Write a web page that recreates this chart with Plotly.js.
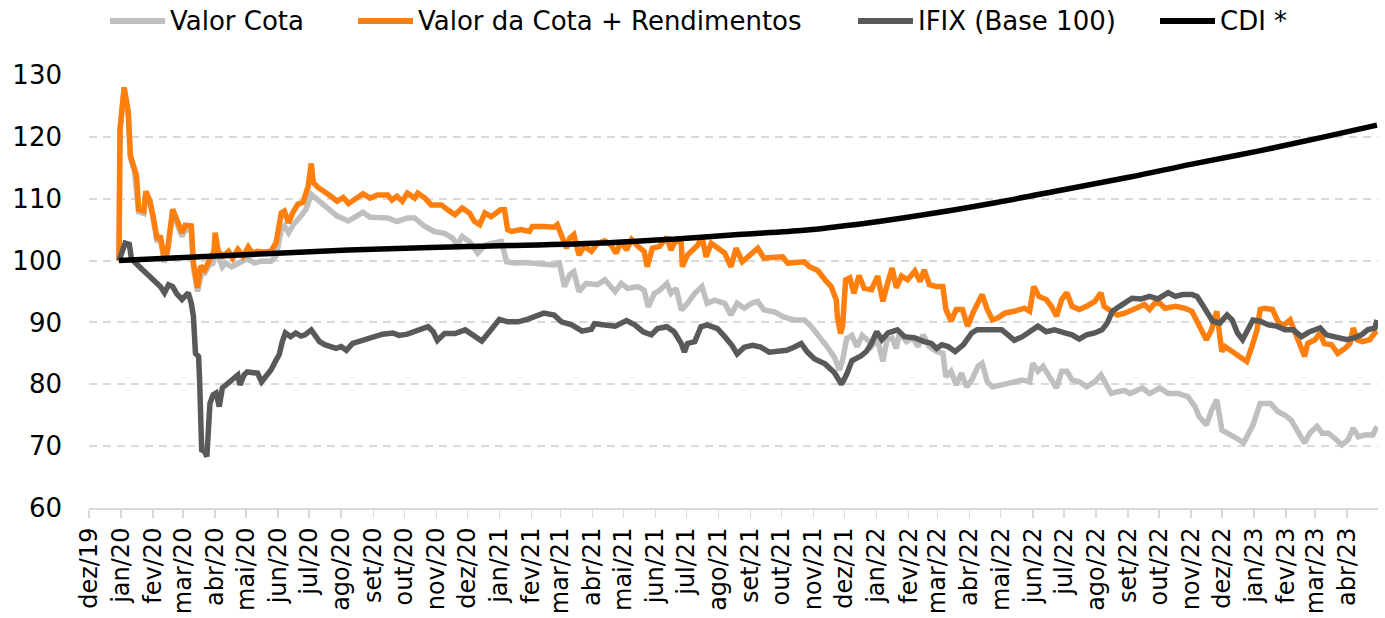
<!DOCTYPE html>
<html>
<head>
<meta charset="utf-8">
<script src="https://cdn.plot.ly/plotly-3.0.1.min.js"></script>
<style>
  html, body { margin: 0; padding: 0; background: #fff; }
  #chart { width: 1385px; height: 618px; }
</style>
</head>
<body>
<div id="chart"></div>
<script>
// ---- Tick labels (monthly) ----
const tickDates = ["2019-12-01","2020-01-01","2020-02-01","2020-03-01","2020-04-01","2020-05-01","2020-06-01","2020-07-01","2020-08-01","2020-09-01","2020-10-01","2020-11-01","2020-12-01","2021-01-01","2021-02-01","2021-03-01","2021-04-01","2021-05-01","2021-06-01","2021-07-01","2021-08-01","2021-09-01","2021-10-01","2021-11-01","2021-12-01","2022-01-01","2022-02-01","2022-03-01","2022-04-01","2022-05-01","2022-06-01","2022-07-01","2022-08-01","2022-09-01","2022-10-01","2022-11-01","2022-12-01","2023-01-01","2023-02-01","2023-03-01","2023-04-01"];
const tickLabels = ["dez/19","jan/20","fev/20","mar/20","abr/20","mai/20","jun/20","jul/20","ago/20","set/20","out/20","nov/20","dez/20","jan/21","fev/21","mar/21","abr/21","mai/21","jun/21","jul/21","ago/21","set/21","out/21","nov/21","dez/21","jan/22","fev/22","mar/22","abr/22","mai/22","jun/22","jul/22","ago/22","set/22","out/22","nov/22","dez/22","jan/23","fev/23","mar/23","abr/23"];

// ---- Valor Cota ----
const datesCota = ["2019-12-30","2019-12-31","2020-01-04","2020-01-08","2020-01-10","2020-01-14","2020-01-18","2020-01-23","2020-01-25","2020-01-29","2020-02-01","2020-02-05","2020-02-08","2020-02-12","2020-02-15","2020-02-20","2020-02-23","2020-02-29","2020-03-03","2020-03-09","2020-03-11","2020-03-15","2020-03-19","2020-03-22","2020-03-26","2020-03-30","2020-04-01","2020-04-04","2020-04-08","2020-04-11","2020-04-17","2020-04-26","2020-05-02","2020-05-09","2020-05-16","2020-05-25","2020-05-30","2020-06-04","2020-06-07","2020-06-11","2020-06-16","2020-06-23","2020-06-28","2020-07-03","2020-07-09","2020-07-16","2020-07-22","2020-07-28","2020-08-08","2020-08-14","2020-08-22","2020-08-29","2020-09-15","2020-09-24","2020-10-04","2020-10-11","2020-10-21","2020-10-30","2020-11-09","2020-11-17","2020-11-21","2020-11-26","2020-12-03","2020-12-11","2020-12-18","2020-12-25","2021-01-03","2021-01-08","2021-01-16","2021-01-25","2021-02-07","2021-02-23","2021-02-28","2021-03-05","2021-03-10","2021-03-14","2021-03-19","2021-03-26","2021-04-06","2021-04-13","2021-04-23","2021-04-29","2021-05-05","2021-05-15","2021-05-21","2021-05-25","2021-05-31","2021-06-05","2021-06-12","2021-06-16","2021-06-21","2021-06-26","2021-07-02","2021-07-09","2021-07-16","2021-07-21","2021-07-28","2021-08-07","2021-08-13","2021-08-19","2021-08-26","2021-09-02","2021-09-08","2021-09-14","2021-09-24","2021-10-03","2021-10-13","2021-10-23","2021-10-30","2021-11-07","2021-11-14","2021-11-21","2021-11-26","2021-11-29","2021-12-03","2021-12-08","2021-12-13","2021-12-18","2021-12-25","2021-12-27","2022-01-02","2022-01-07","2022-01-11","2022-01-16","2022-01-20","2022-01-23","2022-01-30","2022-02-05","2022-02-10","2022-02-15","2022-02-21","2022-02-28","2022-03-06","2022-03-09","2022-03-14","2022-03-19","2022-03-24","2022-03-29","2022-04-03","2022-04-09","2022-04-13","2022-04-18","2022-04-23","2022-05-02","2022-05-12","2022-05-22","2022-05-29","2022-06-01","2022-06-06","2022-06-11","2022-06-18","2022-06-24","2022-06-29","2022-07-04","2022-07-09","2022-07-16","2022-07-23","2022-07-31","2022-08-06","2022-08-11","2022-08-16","2022-08-22","2022-08-29","2022-09-03","2022-09-08","2022-09-15","2022-09-22","2022-10-02","2022-10-10","2022-10-20","2022-10-29","2022-11-05","2022-11-09","2022-11-16","2022-11-21","2022-11-26","2022-12-01","2022-12-07","2022-12-14","2022-12-22","2022-12-27","2022-12-31","2023-01-07","2023-01-17","2023-01-24","2023-01-31","2023-02-06","2023-02-12","2023-02-19","2023-02-24","2023-03-03","2023-03-08","2023-03-14","2023-03-22","2023-03-27","2023-04-02","2023-04-07","2023-04-12","2023-04-18","2023-04-26","2023-04-30"];
const valorCota = [100,121,127.7,123.7,116.7,114.4,107.9,107.6,110.8,109.2,106.8,103,103.5,99.7,101.3,107.7,106.4,103.9,105,104.9,98.9,95,98,98,99.2,99.6,103.5,100.8,99,99.6,99,99.9,100.3,99.6,99.9,99.9,100.7,105,105.6,104.5,105.9,107.2,108.3,110.7,109.9,108.8,108,107.2,106.4,106.9,107.8,107,106.9,106.3,106.9,106.9,105.5,104.7,104.4,103.6,102.5,103.9,103.1,101.2,102.5,102.8,103.1,99.8,99.6,99.7,99.6,99.3,99.6,95.8,97.7,98.2,95,96.3,96.1,96.9,95,96.3,95.5,95.8,95.2,92.5,94.7,95.2,96.3,94.7,95.5,92,93.1,94.7,95.8,93.1,93.6,93.1,91.2,93.1,92.3,93.1,93.4,92,91.7,90.9,90.4,90.4,89.3,87.7,86.1,84.4,82.3,83.9,87.4,87.9,86.1,87.9,86.9,86.1,87.2,83.7,87.2,87.5,85.8,88.3,86.9,87.5,86.1,88,86.1,85.3,85,81.2,82.1,79.9,81.8,79.6,80.7,82.9,83.4,80.4,79.6,79.9,80.4,80.7,80.4,83.4,82.1,82.9,81,79.4,82.1,82.1,80.7,80.4,79.6,80.4,81.5,79.9,78.5,78.8,79,78.5,78.8,79.4,78.5,79.4,78.5,78.5,78,76.4,74.8,73.4,75.8,77.5,72.6,72.1,71.4,70.5,72.1,73.4,76.9,76.9,75.6,75,74.2,72.6,70.5,72.1,73.2,72.1,72.1,71,70.2,71,72.9,71.5,71.8,71.8,73.2];

// ---- Valor da Cota + Rendimentos ----
const datesRend = ["2019-12-30","2019-12-31","2020-01-04","2020-01-08","2020-01-10","2020-01-11","2020-01-14","2020-01-16","2020-01-18","2020-01-23","2020-01-25","2020-01-29","2020-02-01","2020-02-05","2020-02-08","2020-02-12","2020-02-15","2020-02-20","2020-02-23","2020-02-29","2020-03-03","2020-03-09","2020-03-11","2020-03-15","2020-03-18","2020-03-22","2020-03-27","2020-03-31","2020-04-01","2020-04-04","2020-04-09","2020-04-14","2020-04-18","2020-04-23","2020-04-28","2020-05-03","2020-05-07","2020-05-12","2020-05-18","2020-05-25","2020-05-30","2020-06-04","2020-06-07","2020-06-11","2020-06-15","2020-06-20","2020-06-25","2020-06-28","2020-06-30","2020-07-03","2020-07-05","2020-07-09","2020-07-16","2020-07-22","2020-07-28","2020-08-03","2020-08-08","2020-08-14","2020-08-22","2020-08-29","2020-09-05","2020-09-15","2020-09-19","2020-09-24","2020-09-29","2020-10-04","2020-10-11","2020-10-14","2020-10-21","2020-10-27","2020-11-06","2020-11-12","2020-11-19","2020-11-26","2020-12-03","2020-12-08","2020-12-13","2020-12-18","2020-12-24","2020-12-29","2021-01-02","2021-01-06","2021-01-09","2021-01-13","2021-01-22","2021-01-30","2021-02-02","2021-02-13","2021-02-23","2021-02-26","2021-03-03","2021-03-07","2021-03-10","2021-03-14","2021-03-19","2021-03-24","2021-03-31","2021-04-06","2021-04-13","2021-04-19","2021-04-24","2021-04-29","2021-05-04","2021-05-09","2021-05-15","2021-05-21","2021-05-24","2021-05-29","2021-06-05","2021-06-12","2021-06-16","2021-06-21","2021-06-26","2021-06-27","2021-07-02","2021-07-07","2021-07-12","2021-07-16","2021-07-20","2021-07-25","2021-07-31","2021-08-07","2021-08-13","2021-08-18","2021-08-24","2021-09-02","2021-09-08","2021-09-14","2021-09-24","2021-10-02","2021-10-07","2021-10-15","2021-10-23","2021-10-28","2021-11-05","2021-11-12","2021-11-18","2021-11-23","2021-11-24","2021-11-27","2021-11-29","2021-12-02","2021-12-06","2021-12-10","2021-12-15","2021-12-20","2021-12-27","2022-01-02","2022-01-07","2022-01-12","2022-01-16","2022-01-20","2022-01-25","2022-01-31","2022-02-07","2022-02-12","2022-02-16","2022-02-21","2022-02-28","2022-03-06","2022-03-09","2022-03-14","2022-03-19","2022-03-25","2022-03-30","2022-04-04","2022-04-09","2022-04-13","2022-04-18","2022-04-23","2022-04-28","2022-05-05","2022-05-14","2022-05-24","2022-05-29","2022-06-02","2022-06-07","2022-06-14","2022-06-19","2022-06-24","2022-06-29","2022-07-04","2022-07-09","2022-07-16","2022-07-23","2022-07-31","2022-08-06","2022-08-09","2022-08-16","2022-08-22","2022-08-29","2022-09-05","2022-09-10","2022-09-17","2022-09-22","2022-09-27","2022-10-02","2022-10-07","2022-10-17","2022-10-26","2022-11-02","2022-11-07","2022-11-11","2022-11-16","2022-11-21","2022-11-26","2022-11-29","2022-12-01","2022-12-04","2022-12-11","2022-12-16","2022-12-25","2022-12-30","2023-01-04","2023-01-07","2023-01-11","2023-01-19","2023-01-24","2023-01-29","2023-02-05","2023-02-10","2023-02-14","2023-02-19","2023-02-22","2023-03-01","2023-03-06","2023-03-10","2023-03-17","2023-03-23","2023-03-30","2023-04-04","2023-04-07","2023-04-11","2023-04-16","2023-04-23","2023-04-28","2023-04-30"];
const valorRend = [100,121.2,128,124,117,116.4,114.8,113.7,108.3,108,111.2,109.6,107.2,103.4,104,100.2,101.8,108.3,107,104.5,105.7,105.6,99.6,95.6,99.1,98.5,100.2,101.5,104.5,101.5,100.7,101.5,100.4,101.8,100.7,102.2,101.2,101.5,101.4,101.5,102.9,107.7,108,106.1,107.7,109.1,109.4,111.4,112,115.7,112.6,111.9,111.2,110.4,109.6,110.2,109.2,109.8,110.8,110.1,110.6,110.6,109.8,110.4,109.6,110.9,110.1,110.9,110.1,109,109,108.2,107.4,108.5,107.7,106.3,105.8,107.7,107.1,107.7,108.2,108.2,105,104.7,105,104.7,105.5,105.5,105.4,105.8,103.4,102,103.6,104.2,100.9,102.3,101.5,102.8,103.2,102.5,101.2,103.1,101.7,103.4,102.3,101.5,99,102,102.3,103.8,101.7,103.4,102.8,99,100.9,101.7,102.5,103.9,100.6,102.8,102,101.2,99,102,99.8,101.2,102,100.4,100.4,100.6,99.6,99.8,99.8,99,98.4,96.9,95.8,93.6,90.9,88.2,89.3,96.9,97.2,94.7,97.6,95.5,95.3,97.5,93.4,96.6,98.8,95.6,97.5,96.9,98.3,96.6,98.5,96.1,95.8,95.8,92.1,90.2,92.1,92.1,89.4,91.5,93.4,94.5,92.1,90.4,90.7,91.5,91.8,92.3,91.8,95.8,94.2,93.7,92.6,91,93.7,94.8,92.6,92.1,92.6,93.4,94.8,92.6,91.8,91.2,91.5,92.1,92.3,92.9,92.1,93.1,93.1,92.3,92.6,92.3,91.8,90.2,88.8,87.2,88.8,91.8,87.7,85.3,86.1,85.3,84.5,83.7,86.1,88.8,92.1,92.3,92.1,90.2,89.4,90.4,88.3,86.6,84.5,86.6,87.2,88.3,86.6,86.4,85,85.8,86.6,89.1,87.2,86.9,87.2,88.3,88.6];

// ---- IFIX (Base 100) ----
const datesIfix = ["2019-12-30","2020-01-02","2020-01-05","2020-01-09","2020-01-11","2020-01-15","2020-01-20","2020-01-25","2020-01-29","2020-02-03","2020-02-08","2020-02-12","2020-02-16","2020-02-20","2020-02-24","2020-02-29","2020-03-03","2020-03-06","2020-03-09","2020-03-11","2020-03-13","2020-03-16","2020-03-17","2020-03-19","2020-03-22","2020-03-24","2020-03-27","2020-03-30","2020-04-02","2020-04-05","2020-04-08","2020-04-13","2020-04-18","2020-04-23","2020-04-25","2020-04-29","2020-05-02","2020-05-07","2020-05-12","2020-05-16","2020-05-20","2020-05-25","2020-05-30","2020-06-02","2020-06-05","2020-06-08","2020-06-13","2020-06-18","2020-06-23","2020-06-27","2020-07-03","2020-07-06","2020-07-11","2020-07-16","2020-07-22","2020-07-27","2020-08-01","2020-08-06","2020-08-12","2020-08-22","2020-09-01","2020-09-10","2020-09-20","2020-09-26","2020-10-04","2020-10-14","2020-10-24","2020-10-29","2020-11-02","2020-11-09","2020-11-19","2020-11-29","2020-12-06","2020-12-15","2020-12-21","2020-12-28","2021-01-01","2021-01-09","2021-01-19","2021-01-28","2021-02-06","2021-02-13","2021-02-23","2021-03-02","2021-03-12","2021-03-22","2021-03-31","2021-04-03","2021-04-13","2021-04-23","2021-05-04","2021-05-12","2021-05-20","2021-05-28","2021-06-03","2021-06-12","2021-06-19","2021-06-26","2021-06-29","2021-07-02","2021-07-09","2021-07-15","2021-07-21","2021-07-31","2021-08-07","2021-08-14","2021-08-19","2021-08-26","2021-09-03","2021-09-11","2021-09-19","2021-09-27","2021-10-06","2021-10-13","2021-10-20","2021-10-26","2021-11-02","2021-11-12","2021-11-21","2021-11-28","2021-12-03","2021-12-08","2021-12-17","2021-12-22","2021-12-27","2022-01-01","2022-01-06","2022-01-12","2022-01-21","2022-01-28","2022-02-07","2022-02-16","2022-02-23","2022-02-28","2022-03-05","2022-03-11","2022-03-18","2022-03-26","2022-04-03","2022-04-08","2022-04-18","2022-05-02","2022-05-08","2022-05-14","2022-05-22","2022-05-31","2022-06-06","2022-06-14","2022-06-22","2022-07-02","2022-07-09","2022-07-16","2022-07-23","2022-07-31","2022-08-07","2022-08-12","2022-08-17","2022-08-24","2022-08-31","2022-09-05","2022-09-14","2022-09-22","2022-09-30","2022-10-10","2022-10-17","2022-10-24","2022-11-02","2022-11-07","2022-11-12","2022-11-17","2022-11-22","2022-11-29","2022-12-06","2022-12-11","2022-12-16","2022-12-21","2022-12-26","2022-12-31","2023-01-07","2023-01-15","2023-01-23","2023-01-31","2023-02-08","2023-02-16","2023-02-24","2023-03-06","2023-03-12","2023-03-22","2023-04-01","2023-04-08","2023-04-15","2023-04-21","2023-04-28","2023-04-30"];
const ifix = [100,101.5,102.8,102.6,100.4,99.6,98.8,98,97.2,96.4,95.8,94.8,96.1,95.8,94.6,93.7,94.2,94.8,93.1,91,85,84.5,80.7,69.4,69.1,68.3,76.9,78.3,78.6,76.4,79.4,80.2,80.7,81.5,79.9,81.5,82,81.8,81.8,80.4,81.2,82.3,83.9,84.8,86.9,88.3,87.7,88.3,87.8,88,88.8,88,86.9,86.4,86.1,85.8,86.1,85.5,86.6,87.1,87.7,88.1,88.3,87.9,88.1,88.8,89.3,88.5,87.1,88.2,88.2,88.8,87.9,87,88.2,89.6,90.5,90.1,90.1,90.5,91,91.5,91.2,90.1,89.6,88.6,88.9,89.8,89.6,89.4,90.3,89.6,88.5,88,89,89.3,88.5,86.6,85.2,86.6,86.9,89.3,89.6,89,87.7,86.3,84.9,86,86.3,86,85.2,85.4,85.5,86,86.6,85.2,84.1,83.3,81.9,80,81.6,83.8,84.6,85.3,86.6,88.5,87.2,88.3,88.8,87.7,87.5,86.9,86.6,85.8,86.4,86.1,85.3,86.4,88.3,88.8,88.8,88.8,88,87.1,87.7,88.8,89.4,88.5,88.8,88.3,88,87.3,88,88.3,88.8,89.9,91.8,92.6,93.4,93.9,93.8,94.2,93.8,94.8,94.2,94.5,94.5,94.2,92.9,91.5,90.2,89.9,91.2,90.4,88.3,87.2,88.8,90.4,90.2,89.6,89.4,88.8,88.8,87.7,88.5,89.1,88,87.7,87.2,87.5,88,88.8,89.1,90.4];

// ---- CDI * ----
const datesCdi = ["2019-12-30","2020-03-17","2020-08-08","2020-12-11","2021-04-17","2021-06-21","2021-08-20","2021-10-23","2021-11-25","2021-12-25","2022-02-23","2022-04-27","2022-07-02","2022-09-03","2022-11-02","2023-01-05","2023-03-10","2023-04-30"];
const cdi = [100,100.6,101.7,102.3,102.9,103.5,104.2,104.9,105.5,106.1,107.6,109.4,111.5,113.5,115.6,117.7,120,121.9];

const seriesNames = ["Valor Cota", "Valor da Cota + Rendimentos", "IFIX (Base 100)", "CDI *"];
const seriesColors = ["#bfbfbf", "#ff7f0e", "#595959", "#000000"];

const traces = [
  {x: datesCota, y: valorCota, name: seriesNames[0], type: "scatter", mode: "lines",
   line: {color: seriesColors[0], width: 5.5}},
  {x: datesRend, y: valorRend, name: seriesNames[1], type: "scatter", mode: "lines",
   line: {color: seriesColors[1], width: 5.5}},
  {x: datesIfix, y: ifix, name: seriesNames[2], type: "scatter", mode: "lines",
   line: {color: seriesColors[2], width: 5.5}},
  {x: datesCdi, y: cdi, name: seriesNames[3], type: "scatter", mode: "lines",
   line: {color: seriesColors[3], width: 5.5, shape: "spline", smoothing: 1}}
];

// Legend drawn as a row above the plot (pixel layout converted to paper units)
const W = 1385, H = 618, ML = 89, MR = 7, MT = 75, MB = 110;
const plotW = W - ML - MR, plotH = H - MT - MB;
const px = v => (v - ML) / plotW;
const legendY = 1 + (MT - 21) / plotH;
const legendStarts = [110, 358, 858, 1160];
const shapes = [], annotations = [];
seriesNames.forEach((nm, i) => {
  shapes.push({type: "line", xref: "paper", yref: "paper",
    x0: px(legendStarts[i]), x1: px(legendStarts[i] + 55), y0: legendY, y1: legendY,
    line: {color: seriesColors[i], width: 6}});
  annotations.push({xref: "paper", yref: "paper", x: px(legendStarts[i] + 58), y: legendY,
    xanchor: "left", yanchor: "middle", text: nm, showarrow: false,
    font: {family: "DejaVu Sans, sans-serif", size: 26, color: "#000"}});
});

const layout = {
  width: W, height: H,
  margin: {l: ML, r: MR, t: MT, b: MB, autoexpand: false},
  paper_bgcolor: "#ffffff", plot_bgcolor: "#ffffff",
  font: {family: "DejaVu Sans, sans-serif", color: "#000"},
  showlegend: false,
  shapes: shapes,
  annotations: annotations,
  xaxis: {
    type: "date",
    range: ["2019-12-01", "2023-05-01"],
    tickmode: "array", tickvals: tickDates, ticktext: tickLabels,
    tickangle: -90,
    tickfont: {family: "DejaVu Sans, sans-serif", size: 24, color: "#000"},
    ticks: "outside", ticklen: 8, tickwidth: 1.5, tickcolor: "#d9d9d9",
    showline: true, linecolor: "#d9d9d9", linewidth: 2,
    showgrid: false, zeroline: false, fixedrange: true, automargin: false
  },
  yaxis: {
    range: [60, 130], dtick: 10, tick0: 60,
    tickfont: {family: "DejaVu Sans, sans-serif", size: 26, color: "#000"},
    ticks: "", ticklabelstandoff: 26,
    showgrid: true, gridcolor: "#d9d9d9", gridwidth: 2, griddash: "8px,6px",
    showline: false, zeroline: false, fixedrange: true, automargin: false
  }
};

Plotly.newPlot("chart", traces, layout, {displayModeBar: false, staticPlot: true});
</script>
</body>
</html>
